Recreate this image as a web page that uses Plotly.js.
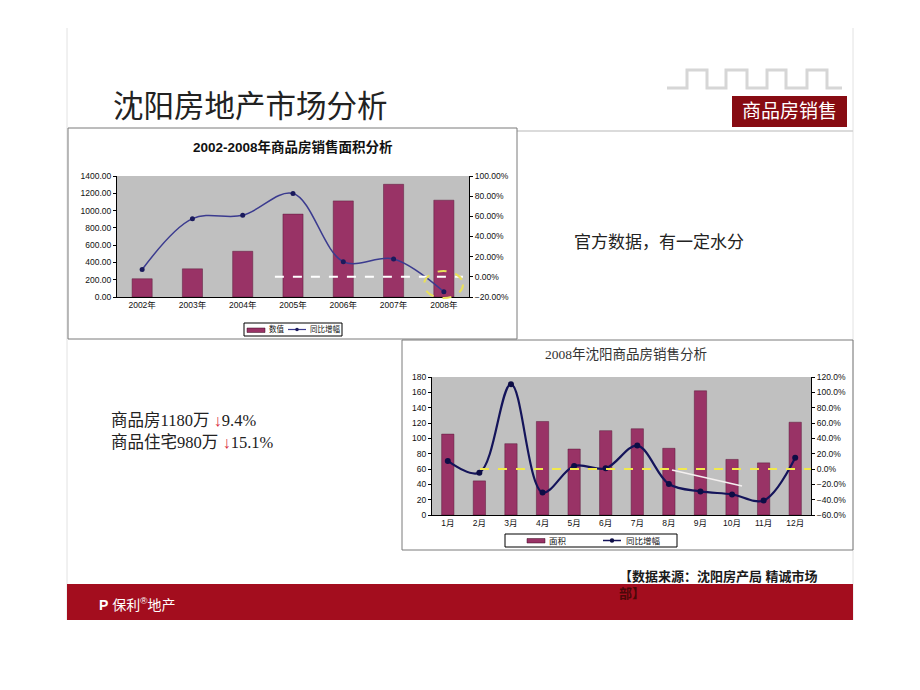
<!DOCTYPE html>
<html>
<head>
<meta charset="utf-8">
<script src="https://cdn.plot.ly/plotly-3.0.1.min.js"></script>
<style>
html,body{margin:0;padding:0;background:#fff;}
#chart{width:920px;height:690px;}
</style>
</head>
<body>
<div id="chart"></div>
<script>
// ---- Chart 1 data: 2002-2008 annual sales area ----
const years = ['2002年','2003年','2004年','2005年','2006年','2007年','2008年'];
const yearArea = [211, 326, 529, 959, 1112, 1304, 1120];
const yearGrowth = [0.072, 0.577, 0.61, 0.826, 0.15, 0.177, -0.148];
const seriesNames1 = ['数值', '同比增幅'];

// ---- Chart 2 data: 2008 monthly sales ----
const months = ['1月','2月','3月','4月','5月','6月','7月','8月','9月','10月','11月','12月'];
const monthArea = [105.5, 44.5, 93, 122, 86, 110, 112.5, 87, 162, 72.5, 68, 121];
const monthGrowth = [0.105, -0.048, 1.107, -0.305, 0.039, 0.009, 0.305, -0.196, -0.292, -0.331, -0.41, 0.148];
const seriesNames2 = ['面积', '同比增幅'];

// ---- helpers for page geometry (pixels -> paper fraction) ----
const W = 920, H = 690;
const px = x => x / W;
const py = y => 1 - y / H;
const CJK = 'Liberation Sans, Noto Sans CJK SC, sans-serif';
const SERIF = 'Liberation Serif, Noto Sans CJK SC, serif';
const BAR = '#993366', LINE1 = '#3b3b8f', MK1 = '#1a1a5c', LINE2 = '#14145a', MK2 = '#0d0d45';

function pathFrom(points){
  return points.map((p,i)=> (i?'L':'M') + px(p[0]).toFixed(5) + ',' + py(p[1]).toFixed(5)).join(' ');
}
const stepPts = [[667,88],[687,88],[687,70],[707,70],[707,88],[726,88],[726,70],[747,70],[747,88],[767,88],[767,70],[786,70],[786,88],[807,88],[807,70],[827,70],[827,88],[842,88]];

const traces = [
  {type:'bar', x:years, y:yearArea, name:seriesNames1[0], xaxis:'x', yaxis:'y',
   marker:{color:BAR, line:{color:'#5a1a3a', width:0.5}}, width:0.4},
  {type:'scatter', mode:'lines+markers', x:years, y:yearGrowth, name:seriesNames1[1], xaxis:'x', yaxis:'y2',
   line:{shape:'spline', smoothing:1, color:LINE1, width:1.5},
   marker:{size:5, color:MK1}},
  {type:'bar', x:months, y:monthArea, name:seriesNames2[0], xaxis:'x2', yaxis:'y3',
   marker:{color:BAR, line:{color:'#5a1a3a', width:0.5}}, width:0.39},
  {type:'scatter', mode:'lines+markers', x:months, y:monthGrowth, name:seriesNames2[1], xaxis:'x2', yaxis:'y4',
   line:{shape:'spline', smoothing:1, color:LINE2, width:2.2},
   marker:{size:6, color:MK2}}
];

const tickFont = {family: CJK, size: 8.5, color:'#111'};

function pr(x0,y0,x1,y1,fill,lc,lw,layer){
  return {type:'rect', xref:'paper', yref:'paper', x0:px(x0), x1:px(x1), y0:py(y1), y1:py(y0),
    fillcolor:fill, line:{color:lc||'rgba(0,0,0,0)', width:lw||0}, layer:layer||'above'};
}
function pl(x0,y0,x1,y1,color,w,dash,layer){
  return {type:'line', xref:'paper', yref:'paper', x0:px(x0), x1:px(x1), y0:py(y0), y1:py(y1),
    line:{color:color, width:w, dash:dash||'solid'}, layer:layer||'above'};
}
function pc(cx,cy,r,color){
  return {type:'circle', xref:'paper', yref:'paper', x0:px(cx-r), x1:px(cx+r), y0:py(cy+r), y1:py(cy-r),
    fillcolor:color, line:{color:color, width:0}};
}

const shapes = [
  pl(67,28,67,620,'#e2e2e2',1,'solid','below'),
  pl(853,28,853,620,'#e2e2e2',1,'solid','below'),
  {type:'path', xref:'paper', yref:'paper', path:pathFrom(stepPts), line:{color:'#d6d6d6', width:3}, layer:'below'},
  pl(517,131,853,131,'#cfcfcf',1.5,'solid','below'),
  pr(732,96,847,127,'#870b12',null,0,'below'),
  pr(68,128,517,339,'rgba(0,0,0,0)','#7a7a7a',1,'below'),
  pr(402,340,853,550,'rgba(0,0,0,0)','#7a7a7a',1,'below'),
  pr(67,584,853,620,'#a30d1e',null,0,'below'),
  // chart1 zero dashed line & highlight ellipse
  {type:'line', xref:'x', yref:'y2', x0:2.64, x1:6.38, y0:0, y1:0, line:{color:'#ffffff', width:2, dash:'dash'}},
  {type:'circle', xref:'paper', yref:'paper', x0:px(424), x1:px(463), y0:py(298), y1:py(271), line:{color:'#e8e05a', width:2, dash:'dash'}},
  // chart2 zero dashed line & annotation stroke
  {type:'line', xref:'x2', yref:'y4', x0:1.02, x1:11.5, y0:0, y1:0, line:{color:'#f2e94a', width:2, dash:'dash'}},
  pl(672,470,742,486,'#f4f0f0',1.5),
  // legend 1
  pr(244,323,342,336,'#ffffff','#000',1),
  pr(247,328,265,332.5,BAR,'#3a0a20',0.5),
  pl(288,329.5,306,329.5,LINE1,1.2),
  pc(297,329.5,1.8,MK1),
  // legend 2
  pr(505,534,677,547,'#ffffff','#000',1),
  pr(527,538.5,545,543,BAR,'#3a0a20',0.5),
  pl(603,540.5,621,540.5,LINE2,1.5),
  pc(612,540.5,2.2,MK2)
];

const annotations = [
  {text:'沈阳房地产市场分析', xref:'paper', yref:'paper', x:px(111), y:py(107), xanchor:'left', yanchor:'middle', showarrow:false,
   font:{family:SERIF, size:30.5, color:'#222'}},
  {text:'商品房销售', xref:'paper', yref:'paper', x:px(789.5), y:py(112), xanchor:'center', yanchor:'middle', showarrow:false,
   font:{family:CJK, size:19, color:'#ffffff'}},
  {text:'<b>2002-2008年商品房销售面积分析</b>', xref:'paper', yref:'paper', x:px(293), y:py(147), xanchor:'center', yanchor:'middle', showarrow:false,
   font:{family:CJK, size:13.5, color:'#111'}},
  {text:'2008年沈阳商品房销售分析', xref:'paper', yref:'paper', x:px(626), y:py(355), xanchor:'center', yanchor:'middle', showarrow:false,
   font:{family:SERIF, size:13.5, color:'#333'}},
  {text:'官方数据，有一定水分', xref:'paper', yref:'paper', x:px(572), y:py(243), xanchor:'left', yanchor:'middle', showarrow:false,
   font:{family:SERIF, size:17, color:'#222'}},
  {text:'商品房1180万 <span style="color:#d8283a">↓</span>9.4%', xref:'paper', yref:'paper', x:px(109), y:py(420), xanchor:'left', yanchor:'middle', showarrow:false,
   font:{family:SERIF, size:16.5, color:'#222'}},
  {text:'商品住宅980万 <span style="color:#d8283a">↓</span>15.1%', xref:'paper', yref:'paper', x:px(109), y:py(442), xanchor:'left', yanchor:'middle', showarrow:false,
   font:{family:SERIF, size:16.5, color:'#222'}},
  {text:'<b>【数据来源：沈阳房产局 精诚市场</b>', xref:'paper', yref:'paper', x:px(617), y:py(576), xanchor:'left', yanchor:'middle', showarrow:false,
   font:{family:CJK, size:13, color:'#1a1a1a'}},
  {text:'<b>部】</b>', xref:'paper', yref:'paper', x:px(617), y:py(593), xanchor:'left', yanchor:'middle', showarrow:false,
   font:{family:CJK, size:13, color:'#4a0808'}},
  {text:'<b>P</b> 保利<sup>®</sup>地产', xref:'paper', yref:'paper', x:px(97), y:py(604), xanchor:'left', yanchor:'middle', showarrow:false,
   font:{family:CJK, size:14, color:'#ffffff'}},
  // legend labels
  {text:seriesNames1[0], xref:'paper', yref:'paper', x:px(267), y:py(329.5), xanchor:'left', yanchor:'middle', showarrow:false,
   font:{family:CJK, size:7.5, color:'#111'}},
  {text:seriesNames1[1], xref:'paper', yref:'paper', x:px(308), y:py(329.5), xanchor:'left', yanchor:'middle', showarrow:false,
   font:{family:CJK, size:7.5, color:'#111'}},
  {text:seriesNames2[0], xref:'paper', yref:'paper', x:px(547), y:py(540.5), xanchor:'left', yanchor:'middle', showarrow:false,
   font:{family:CJK, size:8.5, color:'#111'}},
  {text:seriesNames2[1], xref:'paper', yref:'paper', x:px(624), y:py(540.5), xanchor:'left', yanchor:'middle', showarrow:false,
   font:{family:CJK, size:8.5, color:'#111'}}
];

const layout = {
  width: W, height: H,
  margin:{l:0, r:0, t:0, b:0},
  paper_bgcolor:'#ffffff',
  plot_bgcolor:'#c0c0c0',
  showlegend:false,
  hovermode:false,
  xaxis:{domain:[px(117), px(469)], anchor:'y', type:'category', range:[-0.5,6.5],
    showline:true, linecolor:'#000', linewidth:1, ticks:'', tickfont:tickFont, showgrid:false, fixedrange:true},
  yaxis:{domain:[py(297), py(176)], anchor:'x', range:[0,1400], dtick:200, tickformat:'.2f',
    showline:true, linecolor:'#000', linewidth:1, ticks:'outside', ticklen:3, tickcolor:'#000',
    tickfont:tickFont, showgrid:false, zeroline:false, fixedrange:true},
  yaxis2:{overlaying:'y', side:'right', anchor:'x', range:[-0.2,1.0], dtick:0.2, tickformat:'.2%',
    showline:true, linecolor:'#000', linewidth:1, ticks:'outside', ticklen:3, tickcolor:'#000',
    tickfont:tickFont, showgrid:false, zeroline:false, fixedrange:true},
  xaxis2:{domain:[px(432), px(811)], anchor:'y3', type:'category', range:[-0.5,11.5],
    showline:true, linecolor:'#000', linewidth:1, ticks:'', tickfont:tickFont, showgrid:false, fixedrange:true},
  yaxis3:{domain:[py(515), py(377)], anchor:'x2', range:[0,180], dtick:20,
    showline:true, linecolor:'#000', linewidth:1, ticks:'outside', ticklen:3, tickcolor:'#000',
    tickfont:tickFont, showgrid:false, zeroline:false, fixedrange:true},
  yaxis4:{overlaying:'y3', side:'right', anchor:'x2', range:[-0.6,1.2], dtick:0.2, tickformat:'.1%',
    showline:true, linecolor:'#000', linewidth:1, ticks:'outside', ticklen:3, tickcolor:'#000',
    tickfont:tickFont, showgrid:false, zeroline:false, fixedrange:true},
  shapes: shapes,
  annotations: annotations
};

Plotly.newPlot('chart', traces, layout, {staticPlot:true, displayModeBar:false});
</script>
</body>
</html>
